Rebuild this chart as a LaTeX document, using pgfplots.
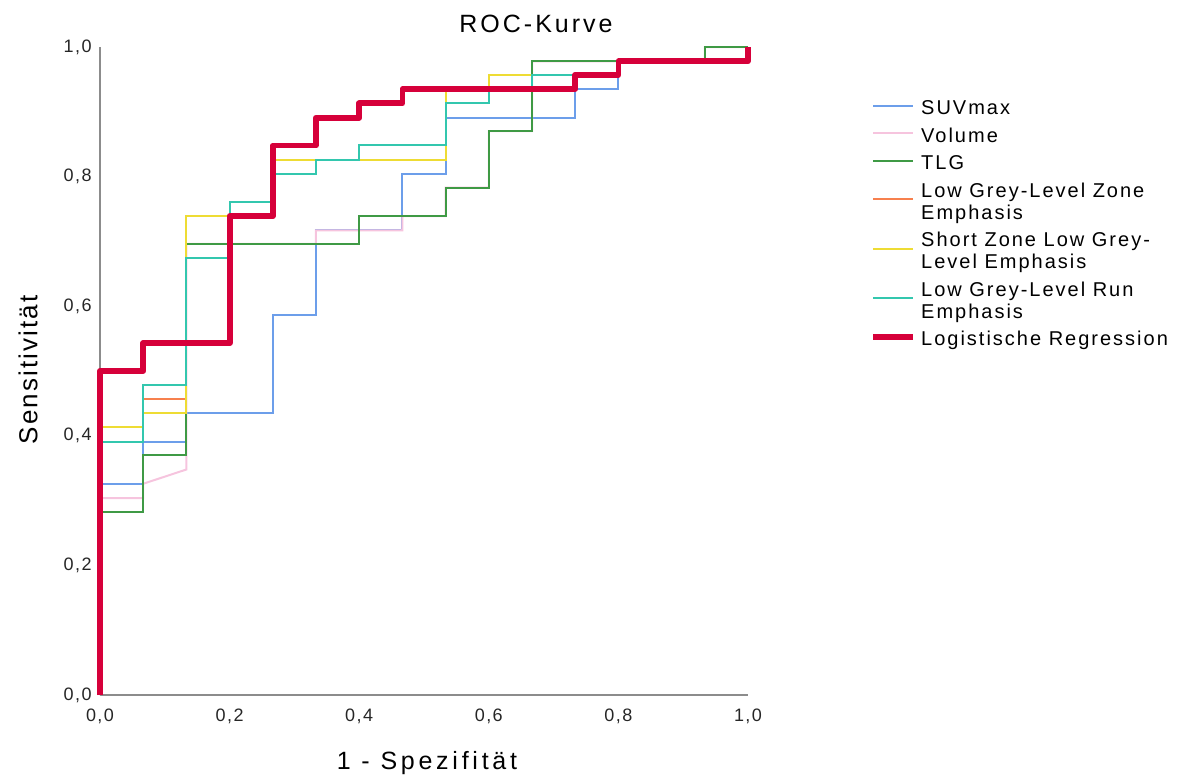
\documentclass[border=0pt]{standalone}
\usepackage{fontspec}
\setmainfont{Liberation Sans}
\newfontfamily\trackT[LetterSpace=12]{Liberation Sans}
\newfontfamily\trackX[LetterSpace=15]{Liberation Sans}
\newfontfamily\trackL[LetterSpace=10]{Liberation Sans}
\newfontfamily\trackK[LetterSpace=8]{Liberation Sans}
\usepackage{pgfplots}
\pgfplotsset{compat=1.18}
\definecolor{cSUV}{HTML}{6C9EEA}
\definecolor{cVol}{HTML}{F6C4DE}
\definecolor{cTLG}{HTML}{3F9A45}
\definecolor{cLGZ}{HTML}{F7804E}
\definecolor{cSZ}{HTML}{EEDC34}
\definecolor{cLGR}{HTML}{33C7AE}
\definecolor{cLR}{HTML}{D6003A}
\begin{document}
\begin{tikzpicture}
\useasboundingbox (-50pt,-41.5pt) rectangle (539pt,347.5pt);
\begin{axis}[
  scale only axis, width=324pt, height=324pt,
  xmin=0, xmax=1, ymin=0, ymax=1,
  axis lines*=left,
  axis line style={draw=black!45, line width=0.7pt, -},
  clip=false,
  xtick={0,0.2,0.4,0.6,0.8,1}, ytick={0,0.2,0.4,0.6,0.8,1},
  xticklabels={{0,0},{0,2},{0,4},{0,6},{0,8},{1,0}},
  yticklabels={{0,0},{0,2},{0,4},{0,6},{0,8},{1,0}},
  major tick length=0pt,
  tick label style={font=\trackK\fontsize{9}{10}\selectfont, text=black!85},
  xticklabel style={anchor=north, inner ysep=0pt, yshift=-6.8pt},
  yticklabel style={anchor=east, inner xsep=0pt, xshift=-4pt},
  legend cell align=left,
  legend style={at={(1.179,0.93)}, anchor=north west, draw=none, fill=none,
    font=\trackL\fontsize{10}{11}\selectfont, row sep=1.75pt,
    cells={align=left},
    nodes={inner ysep=1.4pt, inner xsep=2.5pt}},
  legend image code/.code={\draw[#1] (0pt,1.4pt) -- (20pt,1.4pt);},
  every axis plot/.append style={line join=miter},
]
\addplot[cSUV, line width=1pt] coordinates {(0,0)(0,0.326)(0.0667,0.326)(0.0667,0.391)(0.1333,0.391)(0.1333,0.435)(0.2667,0.435)(0.2667,0.587)(0.3333,0.587)(0.3333,0.717)(0.4667,0.717)(0.4667,0.804)(0.5333,0.804)(0.5333,0.891)(0.7333,0.891)(0.7333,0.935)(0.8,0.935)(0.8,0.978)(1,0.978)(1,1)};
\addlegendentry{\strut SUVmax}
\addplot[cVol, line width=1pt] coordinates {(0,0)(0,0.304)(0.0667,0.304)(0.0667,0.326)(0.1333,0.348)(0.1333,0.696)(0.3333,0.696)(0.3333,0.717)(0.4667,0.717)(0.4667,0.739)(0.5333,0.739)(0.5333,0.783)(0.6,0.783)(0.6,0.870)(0.6667,0.870)(0.6667,0.978)(0.9333,0.978)(0.9333,1)(1,1)};
\addlegendentry{\strut Volume}
\addplot[cTLG, line width=1pt] coordinates {(0,0)(0,0.283)(0.0667,0.283)(0.0667,0.370)(0.1333,0.370)(0.1333,0.696)(0.4,0.696)(0.4,0.739)(0.5333,0.739)(0.5333,0.783)(0.6,0.783)(0.6,0.870)(0.6667,0.870)(0.6667,0.978)(0.9333,0.978)(0.9333,1)(1,1)};
\addlegendentry{\strut TLG}
\addplot[cLGZ, line width=1pt] coordinates {(0,0)(0,0.413)(0.0667,0.413)(0.0667,0.457)(0.1333,0.457)(0.1333,0.739)(0.2667,0.739)(0.2667,0.826)(0.5333,0.826)(0.5333,0.935)(0.6,0.935)(0.6,0.957)(0.8,0.957)(0.8,0.978)(1,0.978)(1,1)};
\addlegendentry{{\strut Low Grey-Level Zone\\\strut Emphasis}}
\addplot[cSZ, line width=1pt] coordinates {(0,0)(0,0.413)(0.0667,0.413)(0.0667,0.435)(0.1333,0.435)(0.1333,0.739)(0.2667,0.739)(0.2667,0.826)(0.5333,0.826)(0.5333,0.935)(0.6,0.935)(0.6,0.957)(0.8,0.957)(0.8,0.978)(1,0.978)(1,1)};
\addlegendentry{{\strut Short Zone Low Grey-\\\strut Level Emphasis}}
\addplot[cLGR, line width=1pt] coordinates {(0,0)(0,0.391)(0.0667,0.391)(0.0667,0.478)(0.1333,0.478)(0.1333,0.674)(0.2,0.674)(0.2,0.761)(0.2667,0.761)(0.2667,0.804)(0.3333,0.804)(0.3333,0.826)(0.4,0.826)(0.4,0.848)(0.5333,0.848)(0.5333,0.913)(0.6,0.913)(0.6,0.935)(0.6667,0.935)(0.6667,0.957)(0.8,0.957)(0.8,0.978)(1,0.978)(1,1)};
\addlegendentry{{\strut Low Grey-Level Run\\\strut Emphasis}}
\addplot[cLR, line width=2.9pt, line join=round] coordinates {(0,0)(0,0.5)(0.0667,0.5)(0.0667,0.543)(0.2,0.543)(0.2,0.739)(0.2667,0.739)(0.2667,0.848)(0.3333,0.848)(0.3333,0.891)(0.4,0.891)(0.4,0.913)(0.4667,0.913)(0.4667,0.935)(0.7333,0.935)(0.7333,0.957)(0.8,0.957)(0.8,0.978)(1,0.978)(1,1)};
\addlegendentry{\strut Logistische Regression}
\end{axis}
\node[font=\trackT\fontsize{12.5}{14}\selectfont] at (218pt,335.5pt) {ROC-Kurve};
\node[font=\trackX\fontsize{12.5}{14}\selectfont] at (163.5pt,-34pt) {1 - Spezifität};
\node[font=\trackK\fontsize{13}{15}\selectfont, rotate=90] at (-36pt,162.5pt) {Sensitivität};
\end{tikzpicture}
\end{document}
